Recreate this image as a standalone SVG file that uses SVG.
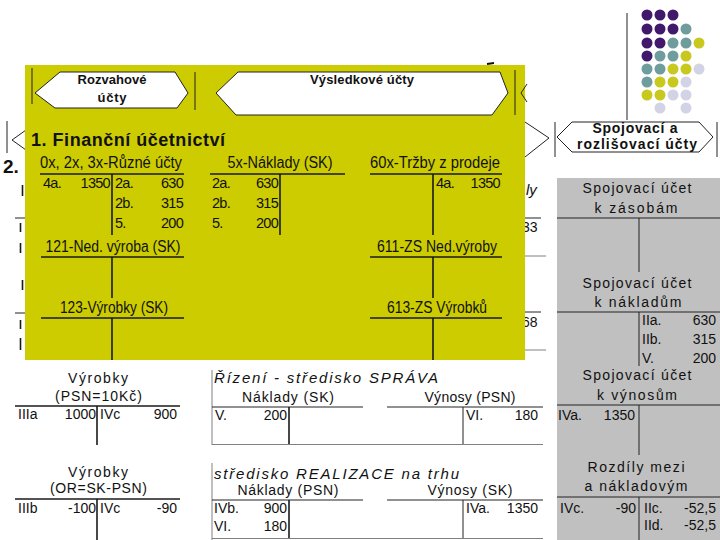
<svg xmlns="http://www.w3.org/2000/svg" width="720" height="540" viewBox="0 0 720 540">
<style>
text { font-family: "Liberation Sans", Arial, sans-serif; fill: #111; }
.hx { fill: #fff; stroke: #222; stroke-width: 1; }
.ln { stroke: #1a1a1a; stroke-width: 1.6; fill: none; }
.lt { stroke: #222; stroke-width: 1; fill: none; }
.lg { stroke: #808080; stroke-width: 1; fill: none; }
.b13 { font-weight: bold; font-size: 13px; }
.b14 { font-weight: bold; font-size: 14px; }
.hd { font-size: 16px; }
.en { font-size: 14.5px; letter-spacing: -0.7px; }
.w14 { font-size: 14px; }
.it { font-style: italic; font-size: 15px; }
.m { text-anchor: middle; }
.e { text-anchor: end; }
.P { fill: #40196b; } .T { fill: #6f9c9d; } .Y { fill: #c8c81e; } .L { fill: #d3d3e6; }
</style>

<g id="dots">
  <circle class="P" cx="647" cy="15" r="5.5"/><circle class="P" cx="660" cy="15" r="5.5"/><circle class="P" cx="673" cy="15" r="5.5"/>
  <circle class="P" cx="647" cy="29" r="5.5"/><circle class="P" cx="660" cy="29" r="5.5"/><circle class="P" cx="673" cy="29" r="5.5"/><circle class="T" cx="686" cy="29" r="5.5"/>
  <circle class="P" cx="647" cy="43" r="5.5"/><circle class="P" cx="660" cy="43" r="5.5"/><circle class="T" cx="673" cy="43" r="5.5"/><circle class="T" cx="686" cy="43" r="5.5"/><circle class="Y" cx="699" cy="43" r="5.5"/>
  <circle class="P" cx="647" cy="56" r="5.5"/><circle class="T" cx="660" cy="56" r="5.5"/><circle class="T" cx="673" cy="56" r="5.5"/><circle class="Y" cx="686" cy="56" r="5.5"/>
  <circle class="T" cx="647" cy="69" r="5.5"/><circle class="T" cx="660" cy="69" r="5.5"/><circle class="Y" cx="673" cy="69" r="5.5"/><circle class="Y" cx="686" cy="69" r="5.5"/><circle class="L" cx="699" cy="69" r="5.5"/>
  <circle class="T" cx="647" cy="82" r="5.5"/><circle class="Y" cx="660" cy="82" r="5.5"/><circle class="Y" cx="673" cy="82" r="5.5"/><circle class="L" cx="686" cy="82" r="5.5"/>
  <circle class="Y" cx="647" cy="95" r="5.5"/><circle class="Y" cx="660" cy="95" r="5.5"/><circle class="L" cx="673" cy="95" r="5.5"/><circle class="L" cx="686" cy="95" r="5.5"/>
  <circle class="L" cx="660" cy="108" r="5.5"/><circle class="L" cx="686" cy="108" r="5.5"/>
</g>

<g id="background-fragments">
  <line class="lt" x1="627" y1="13" x2="627" y2="120"/>
  <line class="lt" x1="7" y1="121" x2="7" y2="153"/>
  <polyline class="lt" points="26,130 12,140 26,150"/>
  <text x="3" y="173" style="font-weight:bold;font-size:19px">2.</text>
  <line class="ln" x1="22.5" y1="185" x2="22.5" y2="196"/>
  <line class="lt" x1="15" y1="218" x2="26" y2="218"/>
  <line class="ln" x1="20.5" y1="223" x2="20.5" y2="232"/>
  <line class="ln" x1="20.5" y1="243" x2="20.5" y2="253"/>
  <line class="ln" x1="22.5" y1="280" x2="22.5" y2="290"/>
  <line class="lt" x1="15" y1="313" x2="26" y2="313"/>
  <line class="ln" x1="20.5" y1="320" x2="20.5" y2="329"/>
  <line class="ln" x1="20.5" y1="338" x2="20.5" y2="350"/>
  <polyline class="lt" points="525,122 549,138 525,157"/>
  <line class="lt" x1="555" y1="122" x2="555" y2="157"/>
  <line class="lt" x1="717" y1="122" x2="717" y2="157"/>
  <text class="it" x="526" y="195">ly</text>
  <line class="lt" x1="518" y1="218" x2="541" y2="218"/>
  <text class="w14" x="522" y="232">33</text>
  <line class="lg" x1="520" y1="256" x2="546" y2="256"/>
  <line class="lt" x1="518" y1="312" x2="541" y2="312"/>
  <text class="w14" x="522" y="327">68</text>
  <line class="lg" x1="520" y1="350" x2="546" y2="350"/>
  <line x1="487" y1="64" x2="494" y2="63" stroke="#111" stroke-width="2"/>
</g>

<g id="spojovaci-hex">
  <polygon class="hx" points="557,137 572,122 699,122 713,137 699,152 572,152"/>
  <text class="b14 m" x="635" y="133" textLength="85">Spojovací a</text>
  <text class="b14 m" x="637" y="149" textLength="120">rozlišovací účty</text>
</g>

<g id="financni">
  <rect x="25" y="65" width="500" height="295" fill="#cccc00"/>
  <line class="lt" x1="32" y1="68" x2="32" y2="104"/>
  <line class="lt" x1="195" y1="72" x2="195" y2="110"/>
  <line class="lt" x1="515" y1="70" x2="515" y2="115"/>
  <polyline class="lt" points="527,84 521,93 527,102"/>
  <g id="rozvahove">
    <polygon class="hx" points="35,93 60,72 175,72 188,93 177,108 55,108"/>
    <text class="b13 m" x="112" y="84" textLength="69">Rozvahové</text>
    <text class="b13 m" x="112" y="102" textLength="29">účty</text>
  </g>
  <g id="vysledkove">
    <polygon class="hx" points="216,93 238,72 500,72 508,93 492,115 236,115"/>
    <text class="b13 m" x="362" y="84" textLength="104">Výsledkové účty</text>
  </g>
  <text x="31" y="146" style="font-weight:bold;font-size:18px" textLength="194">1. Finanční účetnictví</text>

  <g id="acc-ruzne">
    <text class="hd m" x="111" y="168" textLength="142" lengthAdjust="spacingAndGlyphs">0x, 2x, 3x-Různé účty</text>
    <line class="ln" x1="40" y1="174" x2="184" y2="174"/>
    <line class="ln" x1="112" y1="174" x2="112" y2="235"/>
    <text class="en" x="43" y="188">4a.</text><text class="en e" x="110" y="188">1350</text>
    <text class="en" x="115" y="188">2a.</text><text class="en e" x="183" y="188">630</text>
    <text class="en" x="115" y="208">2b.</text><text class="en e" x="183" y="208">315</text>
    <text class="en" x="115" y="228">5.</text><text class="en e" x="183" y="228">200</text>
  </g>
  <g id="acc-naklady">
    <text class="hd m" x="280" y="168" textLength="105" lengthAdjust="spacingAndGlyphs">5x-Náklady (SK)</text>
    <line class="ln" x1="210" y1="174" x2="345" y2="174"/>
    <line class="ln" x1="280" y1="174" x2="280" y2="235"/>
    <text class="en" x="212" y="188">2a.</text><text class="en e" x="278" y="188">630</text>
    <text class="en" x="212" y="208">2b.</text><text class="en e" x="278" y="208">315</text>
    <text class="en" x="212" y="228">5.</text><text class="en e" x="278" y="228">200</text>
  </g>
  <g id="acc-trzby">
    <text class="hd m" x="435" y="168" textLength="130" lengthAdjust="spacingAndGlyphs">60x-Tržby z prodeje</text>
    <line class="ln" x1="370" y1="174" x2="502" y2="174"/>
    <line class="ln" x1="433" y1="174" x2="433" y2="235"/>
    <text class="en" x="436" y="188">4a.</text><text class="en e" x="500" y="188">1350</text>
  </g>
  <g id="acc-121">
    <text class="hd m" x="113" y="252" textLength="135" lengthAdjust="spacingAndGlyphs">121-Ned. výroba (SK)</text>
    <line class="ln" x1="41" y1="257" x2="184" y2="257"/>
    <line class="ln" x1="112" y1="257" x2="112" y2="298"/>
  </g>
  <g id="acc-123">
    <text class="hd m" x="114" y="313" textLength="108" lengthAdjust="spacingAndGlyphs">123-Výrobky (SK)</text>
    <line class="ln" x1="41" y1="318" x2="184" y2="318"/>
    <line class="ln" x1="112" y1="318" x2="112" y2="360"/>
  </g>
  <g id="acc-611">
    <text class="hd m" x="437" y="252" textLength="120" lengthAdjust="spacingAndGlyphs">611-ZS Ned.výroby</text>
    <line class="ln" x1="370" y1="257" x2="502" y2="257"/>
    <line class="ln" x1="433" y1="257" x2="433" y2="298"/>
  </g>
  <g id="acc-613">
    <text class="hd m" x="437" y="313" textLength="100" lengthAdjust="spacingAndGlyphs">613-ZS Výrobků</text>
    <line class="ln" x1="370" y1="318" x2="502" y2="318"/>
    <line class="ln" x1="433" y1="318" x2="433" y2="360"/>
  </g>
</g>

<g id="vyrobky-psn">
  <text class="w14 m" x="98" y="383" textLength="60">Výrobky</text>
  <text class="w14 m" x="98.5" y="401" textLength="87">(PSN=10Kč)</text>
  <line class="ln" x1="15" y1="406" x2="180" y2="406"/>
  <line class="ln" x1="97" y1="406" x2="97" y2="445"/>
  <text class="w14" x="18" y="419">IIIa</text><text class="w14 e" x="96" y="419">1000</text>
  <text class="w14" x="100" y="419">IVc</text><text class="w14 e" x="177" y="419">900</text>
</g>
<g id="vyrobky-or">
  <text class="w14 m" x="98" y="477" textLength="60">Výrobky</text>
  <text class="w14 m" x="98.5" y="493" textLength="97">(OR=SK-PSN)</text>
  <line class="ln" x1="15" y1="499" x2="180" y2="499"/>
  <line class="ln" x1="97" y1="499" x2="97" y2="540"/>
  <text class="w14" x="18" y="513">IIIb</text><text class="w14 e" x="96" y="513">-100</text>
  <text class="w14" x="100" y="513">IVc</text><text class="w14 e" x="177" y="513">-90</text>
</g>

<g id="sprava">
  <line class="lg" x1="212" y1="370" x2="212" y2="445"/>
  <text class="it" x="214" y="383" textLength="224">Řízení - středisko SPRÁVA</text>
  <text class="w14 m" x="288" y="402" textLength="92">Náklady (SK)</text>
  <text class="w14 m" x="470" y="402" textLength="91">Výnosy (PSN)</text>
  <line class="lt" x1="212" y1="407" x2="363" y2="407"/>
  <line class="lt" x1="387" y1="407" x2="543" y2="407"/>
  <line class="ln" x1="289" y1="407" x2="289" y2="445"/>
  <line class="lt" x1="463" y1="407" x2="463" y2="445"/>
  <text class="w14" x="215" y="420">V.</text><text class="w14 e" x="287" y="420">200</text>
  <text class="w14" x="466" y="420">VI.</text><text class="w14 e" x="538" y="420">180</text>
  <line class="lg" x1="212" y1="444.5" x2="543" y2="444.5"/>
</g>
<g id="realizace">
  <line class="lg" x1="212" y1="463" x2="212" y2="540"/>
  <text class="it" x="214" y="479" textLength="245">středisko REALIZACE na trhu</text>
  <text class="w14 m" x="288" y="495" textLength="101">Náklady (PSN)</text>
  <text class="w14 m" x="470" y="495" textLength="85">Výnosy (SK)</text>
  <line class="lt" x1="212" y1="500" x2="363" y2="500"/>
  <line class="lt" x1="387" y1="500" x2="543" y2="500"/>
  <line class="ln" x1="289" y1="500" x2="289" y2="538"/>
  <line class="lt" x1="463" y1="500" x2="463" y2="538"/>
  <text class="w14" x="214" y="513">IVb.</text><text class="w14 e" x="287" y="513">900</text>
  <text class="w14" x="214" y="531">VI.</text><text class="w14 e" x="287" y="531">180</text>
  <text class="w14" x="466" y="513">IVa.</text><text class="w14 e" x="538" y="513">1350</text>
  <line class="lg" x1="212" y1="538.5" x2="543" y2="538.5"/>
</g>

<g id="spojovaci-panel">
  <rect x="557" y="178" width="163" height="362" fill="#c0c0c0"/>
  <text class="w14 m" x="637" y="193" textLength="109">Spojovací účet</text>
  <text class="w14 m" x="636" y="213" textLength="83">k zásobám</text>
  <line class="lt" x1="557" y1="218" x2="720" y2="218"/>
  <line class="lt" x1="639" y1="218" x2="639" y2="272"/>
  <text class="w14 m" x="637" y="288" textLength="109">Spojovací účet</text>
  <text class="w14 m" x="638" y="307" textLength="87">k nákladům</text>
  <line class="lt" x1="557" y1="312" x2="720" y2="312"/>
  <line class="lt" x1="639" y1="312" x2="639" y2="366"/>
  <text class="w14" x="642" y="325">IIa.</text><text class="w14 e" x="716" y="325">630</text>
  <text class="w14" x="642" y="344">IIb.</text><text class="w14 e" x="716" y="344">315</text>
  <text class="w14" x="642" y="363">V.</text><text class="w14 e" x="716" y="363">200</text>
  <text class="w14 m" x="637" y="380" textLength="109">Spojovací účet</text>
  <text class="w14 m" x="637" y="400" textLength="80">k výnosům</text>
  <line class="lt" x1="557" y1="405" x2="720" y2="405"/>
  <line class="lt" x1="639" y1="405" x2="639" y2="455"/>
  <text class="w14" x="558" y="420">IVa.</text><text class="w14 e" x="635" y="420">1350</text>
  <text class="w14 m" x="636" y="472" textLength="97">Rozdíly mezi</text>
  <text class="w14 m" x="636" y="491" textLength="103">a nákladovým</text>
  <line class="lt" x1="557" y1="497" x2="720" y2="497"/>
  <line class="lt" x1="639" y1="497" x2="639" y2="540"/>
  <text class="w14" x="560" y="513">IVc.</text><text class="w14 e" x="636" y="513">-90</text>
  <text class="w14" x="644" y="513">IIc.</text><text class="w14 e" x="716" y="513">-52,5</text>
  <text class="w14" x="644" y="530">IId.</text><text class="w14 e" x="716" y="530">-52,5</text>
</g>
</svg>
